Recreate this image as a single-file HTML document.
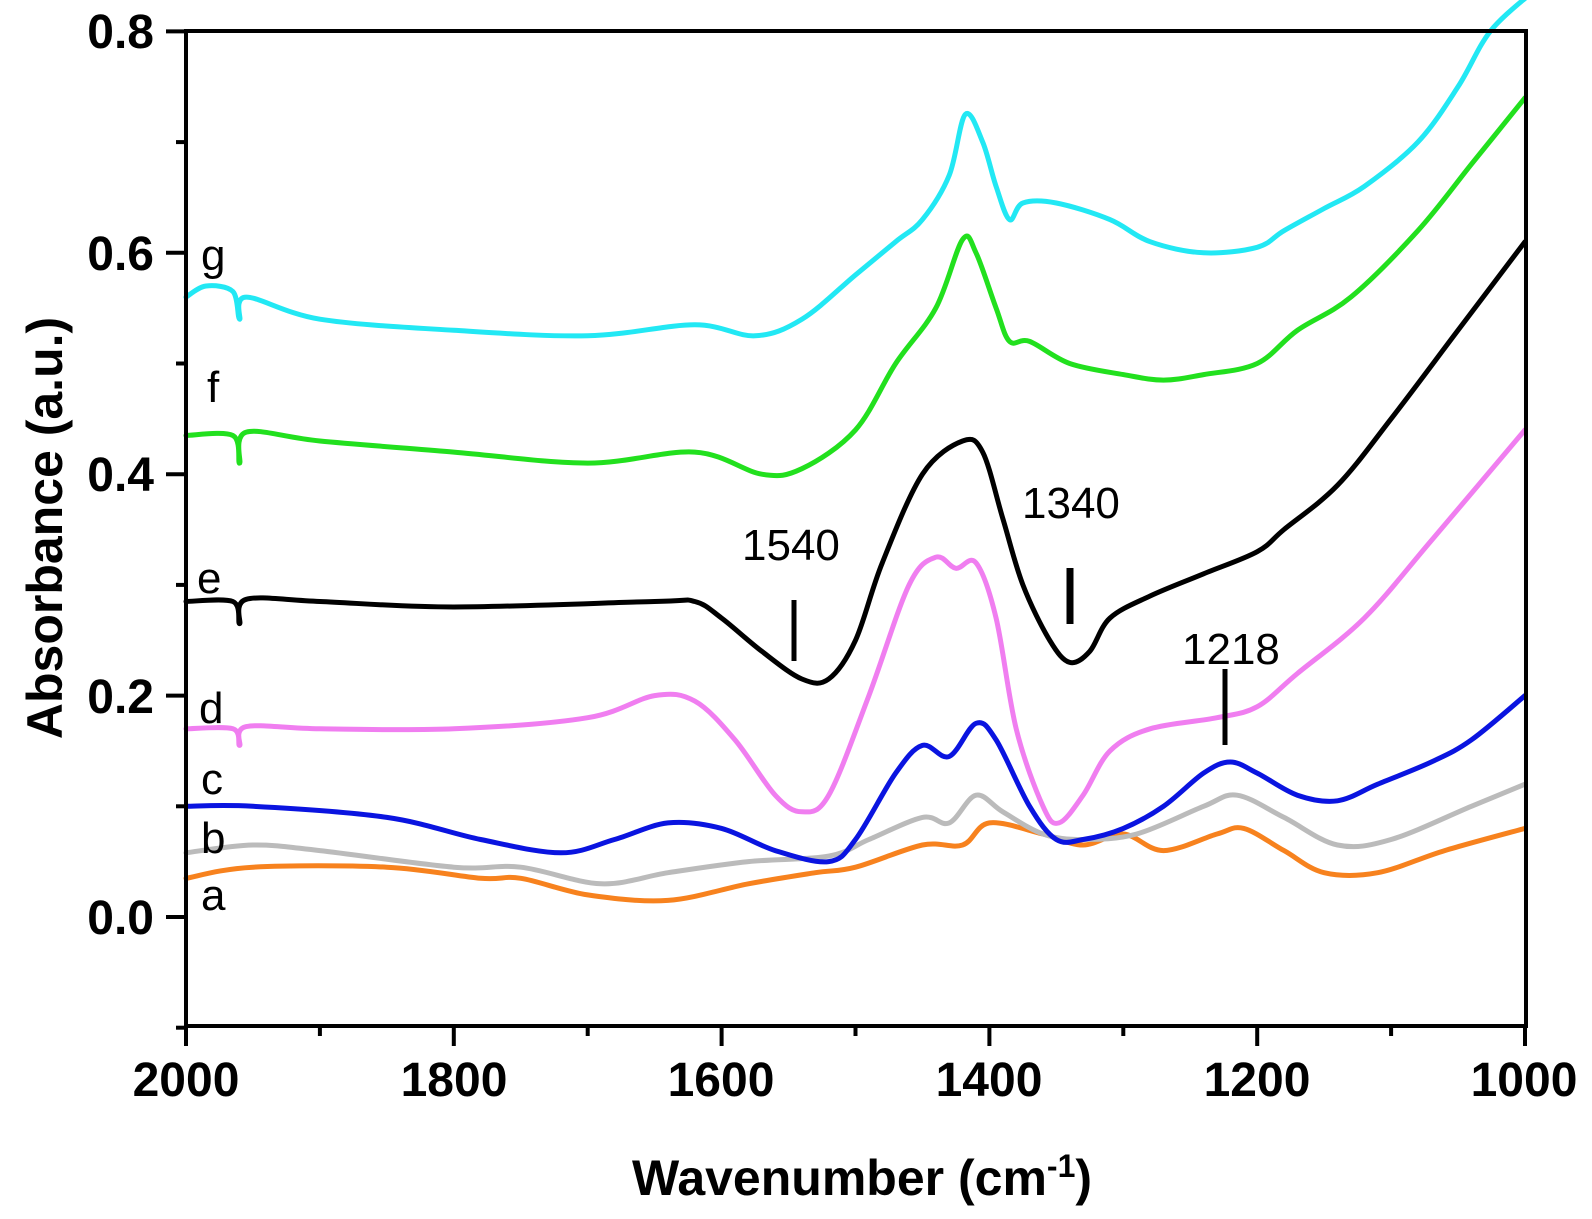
<!DOCTYPE html>
<html><head><meta charset="utf-8"><style>
html,body{margin:0;padding:0;background:#fff;}
svg{display:block;font-family:"Liberation Sans",Arial,sans-serif;}
.tk{font-weight:bold;font-size:48px;}
.lb{font-size:44px;}
</style></head><body>
<svg id="s" width="1592" height="1219" viewBox="0 0 1592 1219" xmlns="http://www.w3.org/2000/svg">
<g id="curves" fill="none" stroke-width="5" stroke-linejoin="round" stroke-linecap="round"></g>
<g stroke="#000" stroke-width="4" fill="none">
<path d="M186,31 H1526 V1026 H186 Z"/>
</g>
<g id="ticks" stroke="#000" stroke-width="4"></g>
<g class="tk" text-anchor="end">
<text x="154" y="48">0.8</text>
<text x="154" y="270">0.6</text>
<text x="154" y="491">0.4</text>
<text x="154" y="713">0.2</text>
<text x="154" y="934">0.0</text>
</g>
<g class="tk" text-anchor="middle">
<text x="186" y="1096">2000</text>
<text x="454" y="1096">1800</text>
<text x="721" y="1096">1600</text>
<text x="989" y="1096">1400</text>
<text x="1257" y="1096">1200</text>
<text x="1524" y="1096">1000</text>
</g>
<text x="862" y="1195" text-anchor="middle" font-weight="bold" font-size="50">Wavenumber (cm<tspan dy="-18" font-size="32">-1</tspan><tspan dy="18">)</tspan></text>
<text transform="translate(62,528) rotate(-90)" text-anchor="middle" font-weight="bold" font-size="50">Absorbance (a.u.)</text>
<g class="lb">
<text x="201" y="270">g</text>
<text x="207" y="402">f</text>
<text x="197" y="593">e</text>
<text x="199" y="723">d</text>
<text x="201" y="794">c</text>
<text x="201" y="853">b</text>
<text x="201" y="910">a</text>
<text x="742" y="560">1540</text>
<text x="1022" y="518">1340</text>
<text x="1182" y="664">1218</text>
</g>
<g stroke="#000">
<line x1="794" y1="600" x2="794" y2="661" stroke-width="5"/>
<line x1="1070" y1="568" x2="1070" y2="624" stroke-width="7"/>
<line x1="1225" y1="669" x2="1225" y2="745" stroke-width="5"/>
</g>
</svg>
<script>
var X=function(w){return 186+(2000-w)*1.339;};
var Y=function(v){return 917-v*1107;};
var ns="http://www.w3.org/2000/svg";
var tk=document.getElementById('ticks');
function ln(x1,y1,x2,y2){var l=document.createElementNS(ns,'line');l.setAttribute('x1',x1);l.setAttribute('y1',y1);l.setAttribute('x2',x2);l.setAttribute('y2',y2);tk.appendChild(l);}
for(var w=2000;w>=1000;w-=100){var x=X(w);ln(x,1026,x,(w%200==0)?1046:1036);}
for(var i=-1;i<=8;i++){var y=Y(i/10);ln(186,y,(i%2==0)?166:176,y);}
var D={
"#f7821e":[[2000,.035],[1950,.045],[1850,.045],[1780,.035],[1750,.035],[1700,.02],[1640,.015],[1580,.03],[1530,.04],[1500,.045],[1450,.065],[1420,.065],[1400,.085],[1360,.075],[1330,.065],[1300,.075],[1270,.06],[1230,.075],[1210,.08],[1180,.06],[1150,.04],[1110,.04],[1060,.06],[1000,.08]],
"#bbbbbb":[[2000,.058],[1950,.065],[1900,.06],[1800,.045],[1750,.045],[1690,.03],[1640,.04],[1580,.05],[1520,.055],[1490,.07],[1450,.09],[1430,.085],[1410,.11],[1390,.095],[1360,.075],[1330,.07],[1290,.075],[1240,.1],[1215,.11],[1180,.09],[1140,.065],[1100,.07],[1040,.1],[1000,.12]],
"#0a14e0":[[2000,.1],[1950,.1],[1850,.09],[1780,.07],[1720,.058],[1680,.07],[1640,.085],[1600,.08],[1560,.06],[1520,.05],[1500,.07],[1470,.13],[1450,.155],[1430,.145],[1410,.175],[1395,.16],[1370,.1],[1350,.07],[1330,.07],[1300,.08],[1270,.1],[1240,.13],[1220,.14],[1200,.13],[1170,.11],[1140,.105],[1110,.12],[1070,.14],[1040,.16],[1000,.2]],
"#f07ef0":[[2000,.17],[1965,.17],[1960,.155],[1955,.172],[1900,.17],[1800,.17],[1700,.18],[1650,.2],[1620,.195],[1590,.16],[1560,.11],[1540,.095],[1520,.11],[1490,.2],[1460,.3],[1440,.325],[1425,.315],[1410,.32],[1395,.27],[1380,.17],[1360,.1],[1348,.085],[1330,.11],[1310,.15],[1280,.17],[1230,.18],[1200,.19],[1170,.22],[1120,.27],[1070,.34],[1000,.44]],
"#000000":[[2000,.285],[1965,.285],[1960,.265],[1955,.287],[1900,.285],[1800,.28],[1650,.285],[1620,.285],[1600,.27],[1570,.24],[1540,.215],[1520,.215],[1500,.25],[1480,.32],[1450,.4],[1420,.43],[1405,.42],[1390,.36],[1375,.3],[1355,.25],[1340,.23],[1325,.24],[1310,.27],[1280,.29],[1240,.31],[1200,.33],[1180,.35],[1140,.39],[1100,.45],[1050,.53],[1000,.61]],
"#22e01e":[[2000,.435],[1965,.435],[1960,.41],[1955,.438],[1900,.43],[1800,.42],[1700,.41],[1620,.42],[1570,.4],[1540,.405],[1500,.44],[1470,.5],[1440,.55],[1420,.612],[1410,.6],[1395,.55],[1385,.52],[1370,.52],[1340,.5],[1300,.49],[1270,.485],[1240,.49],[1200,.5],[1170,.53],[1130,.56],[1080,.62],[1040,.68],[1000,.74]],
"#22e8f4":[[2000,.56],[1985,.57],[1965,.565],[1960,.54],[1955,.56],[1900,.54],[1800,.53],[1700,.525],[1620,.535],[1575,.525],[1540,.54],[1500,.58],[1470,.61],[1450,.63],[1430,.67],[1418,.725],[1405,.7],[1395,.66],[1385,.63],[1375,.645],[1350,.645],[1310,.63],[1280,.61],[1240,.6],[1200,.605],[1180,.62],[1150,.64],[1120,.66],[1080,.7],[1050,.75],[1026,.8],[995,.835]]
};
var g=document.getElementById('curves');
for(var c in D){var p=D[c].map(function(a){return [X(a[0]),Y(a[1])];});
var d="M"+p[0][0].toFixed(1)+","+p[0][1].toFixed(1);
for(var i=0;i<p.length-1;i++){var p0=p[Math.max(0,i-1)],p1=p[i],p2=p[i+1],p3=p[Math.min(p.length-1,i+2)];
var c1x=p1[0]+(p2[0]-p0[0])/6,c1y=p1[1]+(p2[1]-p0[1])/6,c2x=p2[0]-(p3[0]-p1[0])/6,c2y=p2[1]-(p3[1]-p1[1])/6;
d+=" C"+c1x.toFixed(1)+","+c1y.toFixed(1)+" "+c2x.toFixed(1)+","+c2y.toFixed(1)+" "+p2[0].toFixed(1)+","+p2[1].toFixed(1);}
var e=document.createElementNS(ns,'path');e.setAttribute('d',d);e.setAttribute('stroke',c);g.appendChild(e);}
</script>
</body></html>
